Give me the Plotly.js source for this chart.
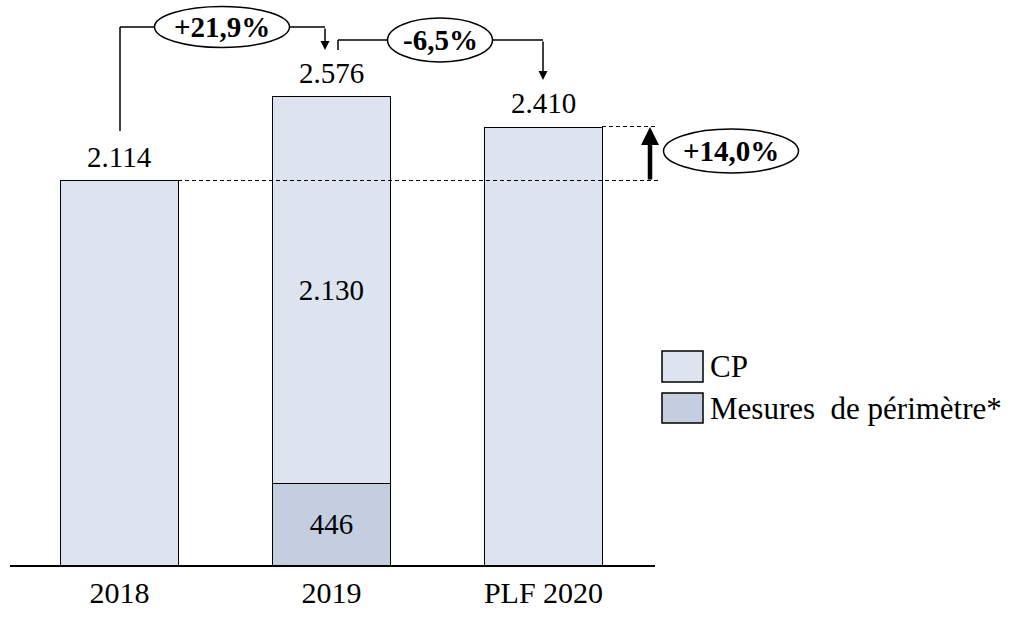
<!DOCTYPE html>
<html><head><meta charset="utf-8">
<script src="https://cdn.plot.ly/plotly-3.0.1.min.js"></script>
<style>html,body{margin:0;padding:0;background:#fff;}</style>
</head><body>
<div id="chart" style="width:1021px;height:627px;"></div>
<script>
const categories = ["2018", "2019", "PLF 2020"];
const mesures = [0, 446, 0];
const cp = [2114, 2130, 2410];
const totalLabels = ["2.114", "2.576", "2.410"];
const cpInnerLabels = ["", "2.130", ""];
const mesuresInnerLabels = ["", "446", ""];
const changes = ["+21,9%", "-6,5%", "+14,0%"];
const seriesNames = ["CP", "Mesures  de périmètre*"];

const FONT = "Liberation Serif, Times New Roman, serif";
const CP_COLOR = "#dee4ef";
const MES_COLOR = "#c4cee0";

// pixel -> paper helpers (plot area: x 10..655, y 10..565)
const L = 10, R = 655, T = 10, B = 565;
const PX = p => (p - L) / (R - L);
const PY = p => (B - p) / (B - T);

const totals = cp.map((v, i) => v + mesures[i]);

const traces = [
  {type: "bar", x: categories, y: mesures, name: seriesNames[1],
   marker: {color: MES_COLOR, line: {color: "#000", width: 1}},
   text: mesuresInnerLabels, textposition: "inside", insidetextanchor: "middle",
   textfont: {family: FONT, size: 29, color: "#000"}, hoverinfo: "skip"},
  {type: "bar", x: categories, y: cp, name: seriesNames[0],
   marker: {color: CP_COLOR, line: {color: "#000", width: 1}},
   text: cpInnerLabels, textposition: "inside", insidetextanchor: "middle",
   textfont: {family: FONT, size: 29, color: "#000"}, hoverinfo: "skip"}
];

const annotations = [];
categories.forEach((c, i) => {
  annotations.push({x: i, y: totals[i], xref: "x", yref: "y", text: totalLabels[i],
    showarrow: false, xanchor: "center", yanchor: "bottom", yshift: 6, font: {family: FONT, size: 29, color: "#000"}});
});
// ellipse labels
const ell = [
  {cx: 222, cy: 27, w: 135, h: 41, t: changes[0]},
  {cx: 440, cy: 40, w: 105, h: 44, t: changes[1]},
  {cx: 731, cy: 151, w: 135, h: 44, t: changes[2]}
];
const shapes = [];
ell.forEach(e => {
  shapes.push({type: "circle", xref: "paper", yref: "paper",
    x0: PX(e.cx - e.w/2), x1: PX(e.cx + e.w/2), y0: PY(e.cy + e.h/2), y1: PY(e.cy - e.h/2),
    line: {color: "#000", width: 1.5}, fillcolor: "#fff"});
  annotations.push({xref: "paper", yref: "paper", x: PX(e.cx), y: PY(e.cy), xanchor: "center", yanchor: "middle",
    text: "<b>" + e.t + "</b>", showarrow: false, font: {family: FONT, size: 29, color: "#000"}});
});
const line = (x0, y0, x1, y1, extra) => Object.assign({type: "line", xref: "paper", yref: "paper",
  x0: PX(x0), y0: PY(y0), x1: PX(x1), y1: PY(y1), line: {color: "#000", width: 1.5}}, extra || {});
// connector 2018 -> 2019
shapes.push(line(120, 131, 120, 27));
shapes.push(line(120, 27, 154.5, 27));
shapes.push(line(289.5, 27, 325, 27));
// connector 2019 -> 2020
shapes.push(line(338, 50, 338, 40));
shapes.push(line(338, 40, 387.5, 40));
shapes.push(line(492.5, 40, 543, 40));
// dashed reference lines
const dashed = {line: {color: "#000", width: 1, dash: "4px,3px"}};
shapes.push(line(178, 180.5, 658, 180.5, dashed));
shapes.push(line(602, 126.5, 658, 126.5, dashed));
// arrows
annotations.push({xref: "paper", yref: "paper", x: PX(325), y: PY(50), ax: 0, ay: -23,
  showarrow: true, arrowhead: 2, arrowsize: 1.2, arrowwidth: 1.5, arrowcolor: "#000", text: ""});
annotations.push({xref: "paper", yref: "paper", x: PX(543), y: PY(80), ax: 0, ay: -40,
  showarrow: true, arrowhead: 2, arrowsize: 1.2, arrowwidth: 1.5, arrowcolor: "#000", text: ""});
annotations.push({xref: "paper", yref: "paper", x: PX(650), y: PY(127), ax: 0, ay: 54,
  showarrow: true, arrowhead: 2, arrowsize: 0.8, arrowwidth: 4.5, arrowcolor: "#000", text: ""});
// legend
const leg = [
  {y0: 351, y1: 382, color: CP_COLOR, t: seriesNames[0]},
  {y0: 393, y1: 423, color: MES_COLOR, t: seriesNames[1]}
];
leg.forEach(l => {
  shapes.push({type: "rect", xref: "paper", yref: "paper", x0: PX(662), x1: PX(703), y0: PY(l.y1), y1: PY(l.y0),
    fillcolor: l.color, line: {color: "#000", width: 1.5}});
  annotations.push({xref: "paper", yref: "paper", x: PX(708), y: PY((l.y0 + l.y1)/2), xanchor: "left", yanchor: "middle",
    text: l.t, showarrow: false, font: {family: FONT, size: 31, color: "#000"}});
});

const layout = {
  width: 1021, height: 627,
  margin: {l: L, r: 1021 - R, t: T, b: 627 - B},
  paper_bgcolor: "#fff", plot_bgcolor: "#fff",
  barmode: "stack", bargap: 0.448, showlegend: false,
  font: {family: FONT, size: 24, color: "#000"},
  xaxis: {type: "category", range: [-0.5165, 2.526], showline: true, linecolor: "#000", linewidth: 1.5,
    ticks: "", showgrid: false, zeroline: false, tickfont: {family: FONT, size: 30, color: "#000"}, ticklabelstandoff: 0},
  yaxis: {visible: false, range: [0, 3054.5], showgrid: false, zeroline: false},
  shapes: shapes, annotations: annotations
};

Plotly.newPlot("chart", traces, layout, {displayModeBar: false, staticPlot: true});
</script>
</body></html>
